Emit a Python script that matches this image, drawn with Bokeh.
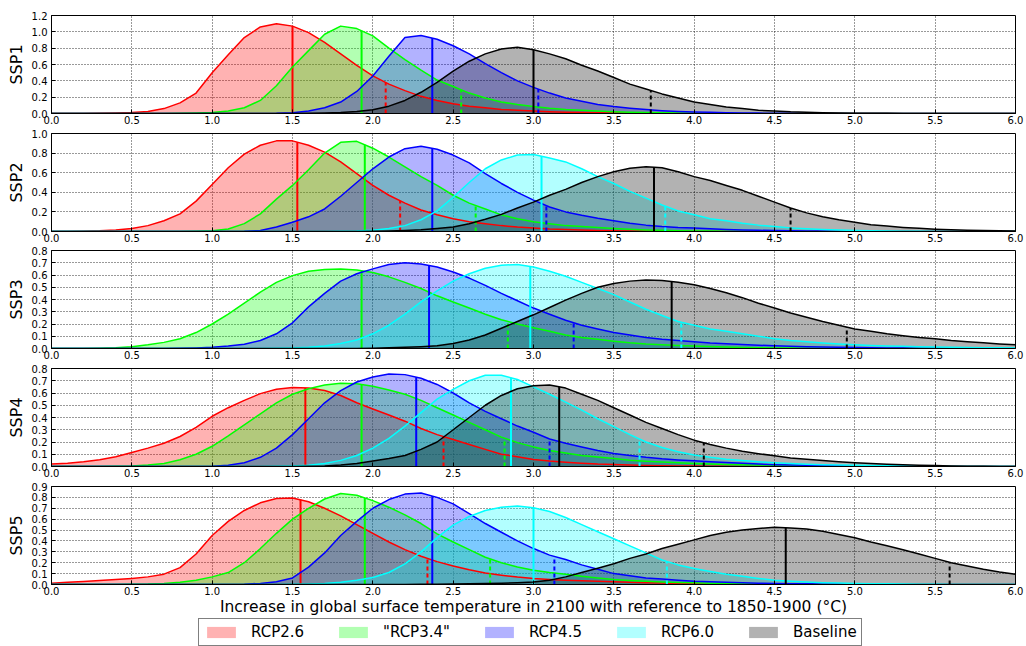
import numpy as np
from bokeh.plotting import figure
from bokeh.layouts import column
from bokeh.models import Range1d, FixedTicker, NumeralTickFormatter, Legend, LegendItem
from bokeh.embed import file_html
from bokeh.resources import INLINE

# ---------------- data ----------------
temps = [0.0, 0.1, 0.2, 0.3, 0.4, 0.5, 0.6, 0.7, 0.8, 0.9,
         1.0, 1.1, 1.2, 1.3, 1.4, 1.5, 1.6, 1.7, 1.8, 1.9,
         2.0, 2.1, 2.2, 2.3, 2.4, 2.5, 2.6, 2.7, 2.8, 2.9,
         3.0, 3.1, 3.2, 3.3, 3.4, 3.5, 3.6, 3.7, 3.8, 3.9,
         4.0, 4.1, 4.2, 4.3, 4.4, 4.5, 4.6, 4.7, 4.8, 4.9,
         5.0, 5.1, 5.2, 5.3, 5.4, 5.5, 5.6, 5.7, 5.8, 5.9, 6.0]

x_ticks = [0.0, 0.5, 1.0, 1.5, 2.0, 2.5, 3.0, 3.5, 4.0, 4.5, 5.0, 5.5, 6.0]

series_keys = ["rcp26", "rcp34", "rcp45", "rcp60", "base"]
series_labels = ["RCP2.6", "\"RCP3.4\"", "RCP4.5", "RCP6.0", "Baseline"]
series_colors = ["#ff0000", "#00ff00", "#0000ff", "#00ffff", "#000000"]

# SSP1
ssp1_rcp26 = [0, 0, 0.001, 0.003, 0.006, 0.012, 0.025, 0.06, 0.13, 0.25,
              0.50, 0.72, 0.93, 1.06, 1.10, 1.07, 0.99, 0.87, 0.73, 0.59,
              0.46, 0.36, 0.28, 0.21, 0.16, 0.12, 0.09, 0.07, 0.05, 0.04,
              0.03, 0.022, 0.016, 0.011, 0.008, 0.005, 0.003, 0.002, 0.001, 0,
              0, 0, 0, 0, 0, 0, 0, 0, 0, 0,
              0, 0, 0, 0, 0, 0, 0, 0, 0, 0, 0]
ssp1_rcp34 = [0, 0, 0, 0, 0, 0, 0, 0, 0.002, 0.005,
              0.012, 0.03, 0.07, 0.16, 0.34, 0.57, 0.77, 0.97, 1.07, 1.04,
              0.95, 0.80, 0.66, 0.53, 0.41, 0.33, 0.25, 0.19, 0.14, 0.11,
              0.085, 0.065, 0.05, 0.04, 0.03, 0.022, 0.016, 0.012, 0.009, 0.006,
              0.004, 0.003, 0.002, 0.001, 0, 0, 0, 0, 0, 0,
              0, 0, 0, 0, 0, 0, 0, 0, 0, 0, 0]
ssp1_rcp45 = [0, 0, 0, 0, 0, 0, 0, 0, 0, 0,
              0, 0, 0, 0, 0.002, 0.01, 0.03, 0.07, 0.14, 0.27,
              0.46, 0.70, 0.93, 0.955, 0.91, 0.83, 0.73, 0.61, 0.50, 0.40,
              0.32, 0.25, 0.19, 0.15, 0.11, 0.085, 0.065, 0.048, 0.035, 0.026,
              0.019, 0.014, 0.01, 0.007, 0.005, 0.003, 0.002, 0.001, 0, 0,
              0, 0, 0, 0, 0, 0, 0, 0, 0, 0, 0]
ssp1_base = [0, 0, 0, 0, 0, 0, 0, 0, 0, 0,
             0, 0, 0, 0, 0, 0, 0.002, 0.005, 0.012, 0.025,
             0.045, 0.09, 0.16, 0.26, 0.38, 0.52, 0.64, 0.73, 0.79, 0.81,
             0.78, 0.73, 0.67, 0.59, 0.52, 0.44, 0.36, 0.30, 0.24, 0.19,
             0.14, 0.11, 0.08, 0.06, 0.04, 0.03, 0.02, 0.015, 0.01, 0.007,
             0.004, 0.003, 0.002, 0.001, 0, 0, 0, 0, 0, 0, 0]
ssp1_series = ["rcp26", "rcp34", "rcp45", "base"]
ssp1_medians = [1.50, 1.93, 2.37, 3.00]
ssp1_upper = [2.08, 2.55, 3.03, 3.73]
ssp1_yticks = [0.0, 0.2, 0.4, 0.6, 0.8, 1.0, 1.2]

# SSP2
ssp2_rcp26 = [0, 0.001, 0.003, 0.007, 0.015, 0.03, 0.06, 0.11, 0.18, 0.31,
              0.48, 0.65, 0.79, 0.88, 0.925, 0.925, 0.88, 0.81, 0.71, 0.59,
              0.47, 0.37, 0.29, 0.22, 0.17, 0.13, 0.10, 0.08, 0.06, 0.045,
              0.035, 0.025, 0.02, 0.015, 0.01, 0.008, 0.006, 0.004, 0.003, 0.002,
              0.001, 0, 0, 0, 0, 0, 0, 0, 0, 0,
              0, 0, 0, 0, 0, 0, 0, 0, 0, 0, 0]
ssp2_rcp34 = [0, 0, 0, 0, 0, 0, 0, 0, 0, 0.002,
              0.007, 0.025, 0.08, 0.18, 0.33, 0.47, 0.63, 0.80, 0.91, 0.92,
              0.85, 0.76, 0.66, 0.56, 0.47, 0.37, 0.29, 0.23, 0.17, 0.13,
              0.10, 0.08, 0.06, 0.05, 0.04, 0.03, 0.022, 0.016, 0.012, 0.008,
              0.006, 0.004, 0.003, 0.002, 0.001, 0, 0, 0, 0, 0,
              0, 0, 0, 0, 0, 0, 0, 0, 0, 0, 0]
ssp2_rcp45 = [0, 0, 0, 0, 0, 0, 0, 0, 0, 0,
              0, 0, 0.002, 0.01, 0.045, 0.095, 0.15, 0.23, 0.36, 0.50,
              0.64, 0.76, 0.845, 0.87, 0.84, 0.78, 0.70, 0.59, 0.49, 0.40,
              0.32, 0.25, 0.20, 0.165, 0.135, 0.11, 0.085, 0.065, 0.05, 0.04,
              0.035, 0.028, 0.02, 0.015, 0.012, 0.01, 0.007, 0.005, 0.004, 0.003,
              0.002, 0.001, 0, 0, 0, 0, 0, 0, 0, 0, 0]
ssp2_rcp60 = [0, 0, 0, 0, 0, 0, 0, 0, 0, 0,
              0, 0, 0, 0, 0, 0, 0, 0, 0.002, 0.005,
              0.012, 0.03, 0.06, 0.12, 0.21, 0.35, 0.50, 0.64, 0.73, 0.78,
              0.785, 0.75, 0.71, 0.64, 0.56, 0.49, 0.41, 0.34, 0.27, 0.21,
              0.17, 0.13, 0.11, 0.085, 0.065, 0.05, 0.037, 0.027, 0.02, 0.015,
              0.01, 0.007, 0.005, 0.003, 0.002, 0.001, 0, 0, 0, 0, 0]
ssp2_base = [0, 0, 0, 0, 0, 0, 0, 0, 0, 0,
             0, 0, 0, 0, 0, 0, 0, 0, 0, 0,
             0.002, 0.005, 0.01, 0.018, 0.03, 0.045, 0.08, 0.125, 0.175, 0.24,
             0.30, 0.37, 0.43, 0.50, 0.56, 0.61, 0.645, 0.66, 0.65, 0.61,
             0.56, 0.52, 0.47, 0.42, 0.36, 0.30, 0.24, 0.19, 0.15, 0.12,
             0.095, 0.07, 0.055, 0.042, 0.032, 0.024, 0.018, 0.013, 0.009, 0.007, 0.005]
ssp2_series = ["rcp26", "rcp34", "rcp45", "rcp60", "base"]
ssp2_medians = [1.53, 1.95, 2.37, 3.05, 3.75]
ssp2_upper = [2.17, 2.64, 3.08, 3.82, 4.60]
ssp2_yticks = [0.0, 0.2, 0.4, 0.6, 0.8, 1.0]

# SSP3
ssp3_rcp34 = [0, 0, 0.001, 0.003, 0.007, 0.014, 0.03, 0.05, 0.08, 0.13,
              0.20, 0.28, 0.37, 0.46, 0.54, 0.595, 0.63, 0.645, 0.648, 0.64,
              0.62, 0.585, 0.54, 0.49, 0.43, 0.38, 0.33, 0.28, 0.235, 0.20,
              0.17, 0.14, 0.11, 0.09, 0.075, 0.06, 0.047, 0.037, 0.03, 0.025,
              0.02, 0.016, 0.012, 0.009, 0.007, 0.005, 0.004, 0.003, 0.002, 0.001,
              0, 0, 0, 0, 0, 0, 0, 0, 0, 0, 0]
ssp3_rcp45 = [0, 0, 0, 0, 0, 0, 0, 0, 0.002, 0.005,
              0.01, 0.02, 0.035, 0.065, 0.12, 0.21, 0.34, 0.45, 0.55, 0.61,
              0.65, 0.685, 0.70, 0.69, 0.665, 0.625, 0.575, 0.515, 0.45, 0.39,
              0.33, 0.28, 0.23, 0.19, 0.16, 0.13, 0.11, 0.09, 0.075, 0.065,
              0.055, 0.045, 0.038, 0.032, 0.027, 0.022, 0.018, 0.015, 0.012, 0.01,
              0.008, 0.006, 0.005, 0.004, 0.003, 0.002, 0.002, 0.001, 0.001, 0, 0]
ssp3_rcp60 = [0, 0, 0, 0, 0, 0, 0, 0, 0, 0,
              0, 0, 0, 0, 0.002, 0.005, 0.01, 0.02, 0.04, 0.07,
              0.12, 0.19, 0.28, 0.38, 0.47, 0.55, 0.61, 0.655, 0.68, 0.685,
              0.665, 0.63, 0.59, 0.54, 0.49, 0.44, 0.38, 0.32, 0.27, 0.22,
              0.19, 0.16, 0.14, 0.12, 0.10, 0.08, 0.066, 0.055, 0.045, 0.037,
              0.03, 0.025, 0.021, 0.018, 0.015, 0.013, 0.011, 0.009, 0.007, 0.006, 0.005]
ssp3_base = [0, 0, 0, 0, 0, 0, 0, 0, 0, 0,
             0, 0, 0, 0, 0, 0, 0, 0, 0, 0,
             0.003, 0.006, 0.01, 0.015, 0.022, 0.04, 0.07, 0.11, 0.165, 0.22,
             0.275, 0.335, 0.395, 0.45, 0.50, 0.53, 0.55, 0.56, 0.555, 0.54,
             0.52, 0.49, 0.455, 0.415, 0.37, 0.33, 0.29, 0.255, 0.22, 0.19,
             0.16, 0.14, 0.12, 0.105, 0.09, 0.08, 0.066, 0.055, 0.046, 0.037, 0.03]
ssp3_series = ["rcp34", "rcp45", "rcp60", "base"]
ssp3_medians = [1.93, 2.35, 2.98, 3.86]
ssp3_upper = [2.84, 3.25, 3.92, 4.95]
ssp3_yticks = [0.0, 0.1, 0.2, 0.3, 0.4, 0.5, 0.6, 0.7, 0.8]

# SSP4
ssp4_rcp26 = [0.02, 0.027, 0.038, 0.055, 0.08, 0.115, 0.15, 0.19, 0.245, 0.32,
              0.41, 0.48, 0.54, 0.595, 0.63, 0.645, 0.64, 0.62, 0.58, 0.52,
              0.47, 0.42, 0.37, 0.31, 0.26, 0.22, 0.18, 0.14, 0.10, 0.08,
              0.058, 0.045, 0.035, 0.027, 0.02, 0.016, 0.012, 0.009, 0.007, 0.005,
              0.004, 0.003, 0.002, 0.001, 0.001, 0, 0, 0, 0, 0,
              0, 0, 0, 0, 0, 0, 0, 0, 0, 0, 0]
ssp4_rcp34 = [0, 0, 0, 0, 0.002, 0.005, 0.012, 0.025, 0.055, 0.10,
              0.165, 0.25, 0.34, 0.43, 0.52, 0.59, 0.635, 0.665, 0.68, 0.675,
              0.655, 0.625, 0.59, 0.54, 0.48, 0.42, 0.36, 0.30, 0.24, 0.195,
              0.16, 0.13, 0.11, 0.09, 0.077, 0.065, 0.052, 0.043, 0.036, 0.03,
              0.025, 0.021, 0.017, 0.014, 0.012, 0.01, 0.008, 0.006, 0.005, 0.004,
              0.003, 0.002, 0.001, 0, 0, 0, 0, 0, 0, 0, 0]
ssp4_rcp45 = [0, 0, 0, 0, 0, 0, 0, 0, 0, 0,
              0.003, 0.01, 0.03, 0.075, 0.15, 0.26, 0.39, 0.52, 0.62, 0.69,
              0.73, 0.755, 0.75, 0.72, 0.67, 0.60, 0.52, 0.45, 0.39, 0.33,
              0.28, 0.225, 0.19, 0.16, 0.13, 0.107, 0.09, 0.075, 0.063, 0.054,
              0.046, 0.038, 0.032, 0.026, 0.02, 0.015, 0.012, 0.01, 0.008, 0.006,
              0.005, 0.004, 0.003, 0.002, 0.001, 0, 0, 0, 0, 0, 0]
ssp4_rcp60 = [0, 0, 0, 0, 0, 0, 0, 0, 0, 0,
              0, 0, 0, 0, 0.002, 0.005, 0.01, 0.025, 0.05, 0.09,
              0.15, 0.23, 0.33, 0.44, 0.55, 0.63, 0.70, 0.745, 0.745, 0.71,
              0.65, 0.59, 0.525, 0.46, 0.39, 0.325, 0.26, 0.20, 0.155, 0.12,
              0.093, 0.075, 0.06, 0.048, 0.038, 0.03, 0.024, 0.019, 0.015, 0.012,
              0.01, 0.008, 0.006, 0.004, 0.003, 0.002, 0.001, 0, 0, 0, 0]
ssp4_base = [0, 0, 0, 0, 0, 0, 0, 0, 0, 0,
             0, 0, 0, 0, 0, 0, 0.002, 0.005, 0.012, 0.025,
             0.045, 0.065, 0.09, 0.14, 0.20, 0.30, 0.40, 0.50, 0.58, 0.635,
             0.66, 0.665, 0.64, 0.59, 0.54, 0.48, 0.42, 0.36, 0.31, 0.26,
             0.215, 0.18, 0.15, 0.125, 0.105, 0.087, 0.07, 0.06, 0.048, 0.038,
             0.03, 0.024, 0.018, 0.014, 0.01, 0.008, 0.005, 0.003, 0.002, 0.001, 0.001]
ssp4_series = ["rcp26", "rcp34", "rcp45", "rcp60", "base"]
ssp4_medians = [1.58, 1.93, 2.27, 2.86, 3.16]
ssp4_upper = [2.44, 2.82, 3.10, 3.66, 4.06]
ssp4_yticks = [0.0, 0.1, 0.2, 0.3, 0.4, 0.5, 0.6, 0.7, 0.8]

# SSP5
ssp5_rcp26 = [0.012, 0.02, 0.028, 0.036, 0.045, 0.056, 0.07, 0.095, 0.155, 0.28,
              0.45, 0.58, 0.68, 0.75, 0.79, 0.795, 0.76, 0.70, 0.63, 0.55,
              0.47, 0.39, 0.32, 0.26, 0.21, 0.17, 0.135, 0.105, 0.085, 0.068,
              0.055, 0.047, 0.04, 0.034, 0.029, 0.025, 0.02, 0.016, 0.013, 0.01,
              0.008, 0.007, 0.005, 0.004, 0.003, 0.002, 0.001, 0, 0, 0,
              0, 0, 0, 0, 0, 0, 0, 0, 0, 0, 0]
ssp5_rcp34 = [0, 0, 0, 0, 0, 0.002, 0.004, 0.01, 0.02, 0.04,
              0.07, 0.11, 0.20, 0.33, 0.47, 0.60, 0.70, 0.785, 0.835, 0.82,
              0.77, 0.71, 0.64, 0.56, 0.465, 0.39, 0.32, 0.25, 0.20, 0.16,
              0.13, 0.11, 0.095, 0.075, 0.06, 0.046, 0.037, 0.03, 0.024, 0.019,
              0.015, 0.012, 0.009, 0.007, 0.005, 0.004, 0.003, 0.002, 0.001, 0,
              0, 0, 0, 0, 0, 0, 0, 0, 0, 0, 0]
ssp5_rcp45 = [0, 0, 0, 0, 0, 0, 0, 0, 0, 0,
              0, 0, 0.003, 0.01, 0.025, 0.06, 0.16, 0.29, 0.45, 0.58,
              0.70, 0.78, 0.83, 0.84, 0.80, 0.74, 0.65, 0.56, 0.48, 0.40,
              0.33, 0.27, 0.23, 0.18, 0.14, 0.10, 0.08, 0.06, 0.05, 0.04,
              0.03, 0.025, 0.02, 0.016, 0.012, 0.01, 0.008, 0.006, 0.005, 0.004,
              0.003, 0.002, 0.001, 0, 0, 0, 0, 0, 0, 0, 0]
ssp5_rcp60 = [0, 0, 0, 0, 0, 0, 0, 0, 0, 0,
              0, 0, 0, 0, 0, 0.002, 0.005, 0.01, 0.02, 0.04,
              0.065, 0.11, 0.19, 0.30, 0.43, 0.545, 0.625, 0.68, 0.71, 0.72,
              0.705, 0.67, 0.615, 0.55, 0.485, 0.42, 0.355, 0.29, 0.225, 0.18,
              0.147, 0.12, 0.095, 0.075, 0.056, 0.04, 0.03, 0.022, 0.017, 0.013,
              0.01, 0.008, 0.006, 0.004, 0.003, 0.002, 0.001, 0, 0, 0, 0]
ssp5_base = [0, 0, 0, 0, 0, 0, 0, 0, 0, 0,
             0, 0, 0, 0, 0, 0, 0, 0, 0, 0,
             0, 0, 0.001, 0.002, 0.003, 0.004, 0.006, 0.009, 0.012, 0.016,
             0.022, 0.04, 0.07, 0.11, 0.15, 0.19, 0.24, 0.28, 0.33, 0.37,
             0.41, 0.45, 0.48, 0.50, 0.515, 0.525, 0.52, 0.51, 0.49, 0.46,
             0.43, 0.39, 0.355, 0.32, 0.28, 0.24, 0.20, 0.17, 0.14, 0.115, 0.095]
ssp5_series = ["rcp26", "rcp34", "rcp45", "rcp60", "base"]
ssp5_medians = [1.55, 1.95, 2.37, 3.00, 4.57]
ssp5_upper = [2.34, 2.73, 3.13, 3.83, 5.59]
ssp5_yticks = [0.0, 0.1, 0.2, 0.3, 0.4, 0.5, 0.6, 0.7, 0.8, 0.9]

ssp_names = ["SSP1", "SSP2", "SSP3", "SSP4", "SSP5"]
panel_curves = [
    {"rcp26": ssp1_rcp26, "rcp34": ssp1_rcp34, "rcp45": ssp1_rcp45, "base": ssp1_base},
    {"rcp26": ssp2_rcp26, "rcp34": ssp2_rcp34, "rcp45": ssp2_rcp45, "rcp60": ssp2_rcp60, "base": ssp2_base},
    {"rcp34": ssp3_rcp34, "rcp45": ssp3_rcp45, "rcp60": ssp3_rcp60, "base": ssp3_base},
    {"rcp26": ssp4_rcp26, "rcp34": ssp4_rcp34, "rcp45": ssp4_rcp45, "rcp60": ssp4_rcp60, "base": ssp4_base},
    {"rcp26": ssp5_rcp26, "rcp34": ssp5_rcp34, "rcp45": ssp5_rcp45, "rcp60": ssp5_rcp60, "base": ssp5_base},
]
panel_series = [ssp1_series, ssp2_series, ssp3_series, ssp4_series, ssp5_series]
panel_medians = [ssp1_medians, ssp2_medians, ssp3_medians, ssp4_medians, ssp5_medians]
panel_upper = [ssp1_upper, ssp2_upper, ssp3_upper, ssp4_upper, ssp5_upper]
panel_yticks = [ssp1_yticks, ssp2_yticks, ssp3_yticks, ssp4_yticks, ssp5_yticks]

# ---------------- drawing ----------------
FONT = "DejaVu Sans"
color_of = dict(zip(series_keys, series_colors))
tops = [15, 6, 5, 6, 6]
bottoms = [14, 14, 14, 14, 33]

figs = []
for i, name in enumerate(ssp_names):
    yt = panel_yticks[i]
    p = figure(frame_width=964, frame_height=98, output_backend="svg",
               toolbar_location=None, x_range=Range1d(0, 6),
               y_range=Range1d(yt[0], yt[-1]),
               min_border_left=51, min_border_right=10,
               min_border_top=tops[i], min_border_bottom=bottoms[i])
    p.background_fill_color = "white"
    p.border_fill_color = "white"
    p.outline_line_color = "black"
    p.outline_line_width = 1
    p.outline_line_alpha = 1

    for key in panel_series[i]:
        vals = panel_curves[i][key]
        p.varea(x=temps, y1=[0] * len(temps), y2=vals,
                fill_color=color_of[key], fill_alpha=0.3)
    for j, key in enumerate(panel_series[i]):
        vals = panel_curves[i][key]
        c = color_of[key]
        p.line(temps, vals, line_color=c, line_width=1.5, line_join="round")
        med = panel_medians[i][j]
        up = panel_upper[i][j]
        hm = float(np.interp(med, temps, vals))
        hu = float(np.interp(up, temps, vals))
        p.segment(x0=[med], y0=[0], x1=[med], y1=[hm], line_color=c, line_width=2)
        p.segment(x0=[up], y0=[0], x1=[up], y1=[hu], line_color=c, line_width=2,
                  line_dash="4 3")

    # axes
    p.xaxis.ticker = FixedTicker(ticks=x_ticks)
    p.yaxis.ticker = FixedTicker(ticks=yt)
    p.xaxis.formatter = NumeralTickFormatter(format="0.0")
    p.yaxis.formatter = NumeralTickFormatter(format="0.0")
    for ax in (p.xaxis[0], p.yaxis[0]):
        ax.major_tick_in = 4
        ax.major_tick_out = 0
        ax.minor_tick_line_color = None
        ax.major_tick_line_color = "black"
        ax.axis_line_color = "black"
        ax.major_label_text_font = FONT
        ax.major_label_text_font_size = "10px"
        ax.major_label_text_color = "black"
        ax.major_label_standoff = 2
    p.yaxis.major_label_standoff = 4
    p.yaxis.axis_label = name
    p.yaxis.axis_label_text_font = FONT
    p.yaxis.axis_label_text_font_size = "16px"
    p.yaxis.axis_label_text_font_style = "normal"
    p.yaxis.axis_label_text_color = "black"
    p.yaxis.axis_label_standoff = 3

    p.xgrid.grid_line_color = "black"
    p.ygrid.grid_line_color = "black"
    for g in (p.xgrid[0], p.ygrid[0]):
        g.grid_line_dash = "1 2"
        g.grid_line_alpha = 0.8
        g.grid_line_width = 1

    if i == 4:
        p.xaxis.axis_label = "Increase in global surface temperature in 2100 with reference to 1850-1900 (°C)"
        p.xaxis.axis_label_text_font = FONT
        p.xaxis.axis_label_text_font_size = "15.5px"
        p.xaxis.axis_label_text_font_style = "normal"
        p.xaxis.axis_label_text_color = "black"
        p.xaxis.axis_label_standoff = 0
    figs.append(p)

# legend strip below the panels (proxy areas lie outside its visible y-range)
lg = figure(frame_width=1025, frame_height=29, output_backend="svg",
            toolbar_location=None, x_axis_type=None, y_axis_type=None,
            x_range=Range1d(0, 6), y_range=Range1d(5, 6),
            min_border_left=0, min_border_right=0, min_border_top=0, min_border_bottom=0)
lg.outline_line_color = None
lg.xgrid.visible = False
lg.ygrid.visible = False
lg.background_fill_color = "white"
lg.border_fill_color = "white"
proxy_curves = [ssp5_rcp26, ssp5_rcp34, ssp5_rcp45, ssp5_rcp60, ssp5_base]
proxies = [lg.varea(x=temps, y1=[0] * len(temps), y2=vals, fill_color=c, fill_alpha=0.3)
           for vals, c in zip(proxy_curves, series_colors)]
items = [LegendItem(label=lab, renderers=[r]) for lab, r in zip(series_labels, proxies)]
legend = Legend(items=items, orientation="horizontal", location=(198, 1))
legend.glyph_width = 36
legend.glyph_height = 14
legend.label_standoff = 12
legend.spacing = 31
legend.padding = 4
legend.margin = 0
legend.label_height = 18
legend.label_text_font = FONT
legend.label_text_font_size = "15px"
legend.label_text_color = "black"
legend.border_line_color = "black"
legend.border_line_width = 1
legend.background_fill_color = "white"
legend.background_fill_alpha = 1
lg.add_layout(legend)
figs.append(lg)

layout = column(*figs, spacing=0)
open("out.html", "w").write(file_html(layout, INLINE))
